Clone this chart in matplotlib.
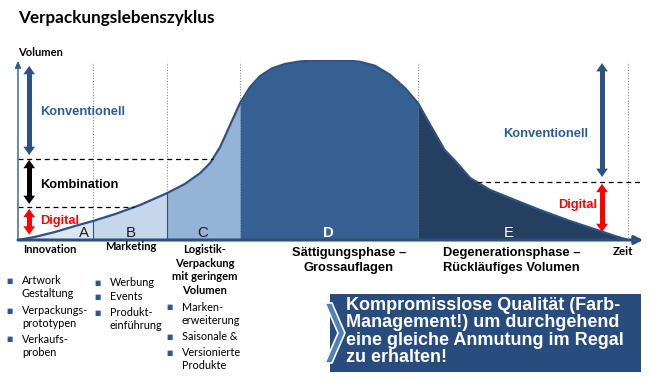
import numpy as np
import matplotlib.pyplot as plt
from matplotlib.patches import Rectangle, Polygon

# Lebenszyklus-Kurve (Zeit 0..100, Volumen 0..100)
zeit = [0, 2.7, 5.9, 9.2, 12.1, 15.6, 19.6, 24.0, 26.8, 29.3, 30.9, 32.5, 34.1, 35.7,
        37.3, 38.9, 40.8, 42.9, 45.3, 47.7, 50.2, 52.7, 55.0, 57.4, 59.8, 62.2, 64.3, 66.2, 68.6,
        70.3, 72.7, 75.9, 79.1, 83.9, 88.7, 93.6, 96.0, 98.1]
volumen = [0, 1.7, 4.4, 7.8, 10.6, 14.4, 19.4, 26.1, 31.1, 37.2, 42.8, 51.7, 63.9, 76.1,
           85.0, 91.0, 95.3, 97.8, 99.2, 99.8, 100, 99.8, 99.0, 96.8, 91.8, 84.5, 76.1, 64.4, 50.0,
           43.9, 34.4, 27.8, 23.3, 16.7, 10.6, 5.0, 2.2, 0]

phasen = ["A", "B", "C", "D", "E"]
phase_grenzen = [0, 12.1, 24.0, 35.7, 64.3, 98.1]
phase_farben = ["#dce6f2", "#c6d6eb", "#95b3d7", "#376092", "#243f60"]

# Volumenstufen fuer Konventionell / Kombination / Digital
stufe_kombination = 45.0
stufe_digital = 18.3
stufe_rechts = 32.2

spalte1 = [["Artwork", "Gestaltung"], ["Verpackungs-", "prototypen"], ["Verkaufs-", "proben"]]
spalte2 = [["Werbung"], ["Events"], ["Produkt-", "einführung"]]
spalte3 = [["Marken-", "erweiterung"], ["Saisonale &"], ["Versionierte", "Produkte"]]
box_zeilen = ["Kompromisslose Qualität (Farb-", "Management!) um durchgehend",
              "eine gleiche Anmutung im Regal", "zu erhalten!"]

CAL = "Lato"
ARI = "Liberation Sans"
DUNKEL = "#2f5282"
BLAU_TXT = "#2b5c9a"
BLAU_PF = "#2c5283"

fig = plt.figure(figsize=(6.51, 3.83), dpi=100)

# Diagramm-Achse: x 18..640 px, y 240..60 px
ax = fig.add_axes([18 / 651, 1 - 240 / 383, 622 / 651, 180 / 383])
ax.set_xlim(0, 100)
ax.set_ylim(0, 100)
ax.axis("off")

t = np.array(zeit)
v = np.array(volumen)

# gepunktete Phasengrenzen
for g in phase_grenzen[1:]:
    ax.plot([g, g], [0, 99], color="#8a8a8a", lw=0.8, ls=(0, (1, 1.5)), zorder=1)

for i, p in enumerate(phasen):
    a, b = phase_grenzen[i], phase_grenzen[i + 1]
    m = (t >= a - 1e-9) & (t <= b + 1e-9)
    ax.fill_between(t[m], 0, v[m], color=phase_farben[i], lw=0, zorder=2)
for g in phase_grenzen[1:3]:
    ax.plot([g, g], [0, np.interp(g, t, v)], color=DUNKEL, lw=0.8, zorder=3)
ax.plot(t, v, color=DUNKEL, lw=1.6, zorder=4, solid_joinstyle="round")

steigend = t <= 50.2
fallend = t >= 50.2
for lvl in [stufe_kombination, stufe_digital]:
    x_end = np.interp(lvl, v[steigend], t[steigend])
    ax.plot([0, x_end], [lvl, lvl], color="black", lw=0.9, ls=(0, (4, 3)), zorder=5)
x_start = np.interp(stufe_rechts, v[fallend][::-1], t[fallend][::-1])
ax.plot([x_start, 100], [stufe_rechts, stufe_rechts], color="black", lw=0.9,
        ls=(0, (4, 3)), zorder=5)

# Achsen
ax.annotate("", xy=(100.5, 0), xytext=(0, 0),
            arrowprops=dict(arrowstyle="-|>,head_length=0.5,head_width=0.25",
                            color="#2e4f7e", lw=2.2, shrinkA=0, shrinkB=0),
            annotation_clip=False, zorder=6)
ax.annotate("", xy=(0, 99.5), xytext=(0, 0),
            arrowprops=dict(arrowstyle="-|>,head_length=0.4,head_width=0.18",
                            color="#2e5a91", lw=1.0, shrinkA=0, shrinkB=0),
            annotation_clip=False, zorder=6)


def doppelpfeil(x, y0, y1, farbe):
    ax.plot([x, x], [y0 + 3, y1 - 3], color=farbe, lw=3.6, solid_capstyle="butt", zorder=7)
    ax.annotate("", xy=(x, y1), xytext=(x, y0),
                arrowprops=dict(arrowstyle="<|-|>,head_length=0.6,head_width=0.42",
                                color=farbe, lw=0, mutation_scale=10,
                                shrinkA=0, shrinkB=0),
                annotation_clip=False, zorder=7)


doppelpfeil(1.8, stufe_kombination + 2.2, 96.7, BLAU_PF)
doppelpfeil(1.8, stufe_digital + 1.7, stufe_kombination - 0.5, "black")
doppelpfeil(1.8, 3.0, stufe_digital - 1.0, "#ff0000")
doppelpfeil(93.9, stufe_rechts + 2.8, 98.3, BLAU_PF)
doppelpfeil(93.9, 4.4, stufe_rechts - 1.0, "#ff0000")

# Overlay in Pixelkoordinaten fuer Texte
bg = fig.add_axes([0, 0, 1, 1])
bg.set_xlim(0, 651)
bg.set_ylim(383, 0)
bg.axis("off")
bg.set_zorder(5)
bg.patch.set_alpha(0)

bg.text(18, 23.5, "Verpackungslebenszyklus", family=CAL, fontweight="bold",
        fontsize=12.3, va="baseline")
bg.text(18, 56.5, "Volumen", family=CAL, fontweight="bold", fontsize=8, va="baseline")

bg.text(40, 115, "Konventionell", family=ARI, fontweight="bold", fontsize=9.3,
        color=BLAU_TXT, va="baseline")
bg.text(40, 188, "Kombination", family=ARI, fontweight="bold", fontsize=9.3,
        color="black", va="baseline")
bg.text(40, 224, "Digital", family=ARI, fontweight="bold", fontsize=9.3,
        color="#ff0000", va="baseline")
bg.text(503, 137, "Konventionell", family=ARI, fontweight="bold", fontsize=9.3,
        color=BLAU_TXT, va="baseline")
bg.text(558, 208, "Digital", family=ARI, fontweight="bold", fontsize=9.3,
        color="#ff0000", va="baseline")

for lab, x, c, w in zip(phasen, [84, 130.5, 203, 328.5, 509],
                        ["#1a1a1a", "#1a1a1a", "#1a1a1a", "white", "white"],
                        ["normal", "normal", "normal", "bold", "normal"]):
    bg.text(x, 237, lab, family=ARI, fontsize=10.8, color=c, fontweight=w,
            ha="center", va="baseline")

bg.text(50, 253, "Innovation", family=CAL, fontweight="bold", fontsize=8,
        ha="center", va="baseline")
bg.text(131, 250, "Marketing", family=CAL, fontweight="bold", fontsize=8,
        ha="center", va="baseline")
for s, yb in zip(["Logistik-", "Verpackung", "mit geringem", "Volumen"], [253, 267, 280, 294]):
    bg.text(205, yb, s, family=CAL, fontweight="bold", fontsize=8,
            ha="center", va="baseline")
bg.text(613, 255, "Zeit", family=CAL, fontweight="bold", fontsize=8.4, va="baseline")

bg.text(349, 256, "Sättigungsphase –", family=ARI, fontweight="bold", fontsize=9.3,
        ha="center", va="baseline")
bg.text(349, 270.5, "Grossauflagen", family=ARI, fontweight="bold", fontsize=9.3,
        ha="center", va="baseline")
bg.text(443, 256, "Degenerationsphase –", family=ARI, fontweight="bold", fontsize=9.3,
        va="baseline")
bg.text(443, 270.5, "Rückläufiges Volumen", family=ARI, fontweight="bold", fontsize=9.3,
        va="baseline")


def aufzaehlung(items, xb, xt, starts):
    for item, y0 in zip(items, starts):
        bg.text(xb, y0 - 3.5, "■", fontsize=4.8, color="#2f5597", ha="center", va="center")
        for k, s in enumerate(item):
            bg.text(xt, y0 + k * 13.3, s, family=CAL, fontsize=7.8, va="baseline")


aufzaehlung(spalte1, 10, 22, [284, 314, 343])
aufzaehlung(spalte2, 98, 110, [286, 300, 316])
aufzaehlung(spalte3, 170, 182, [311, 340, 356])

# Kasten rechts unten
bg.add_patch(Rectangle((330, 294), 311, 78, facecolor="#284c7e", edgecolor="none"))
bg.add_patch(Polygon([(325, 303), (332, 303), (345, 333), (332, 363), (325, 363), (338, 333)],
                     closed=True, facecolor="#4f81bd", edgecolor="white", lw=1.2))
for k, s in enumerate(box_zeilen):
    bg.text(346, 309.5 + k * 17.6, s, family=ARI, fontweight="bold", fontsize=13.0,
            color="white", va="baseline")

fig.savefig("out.png", dpi=100)
